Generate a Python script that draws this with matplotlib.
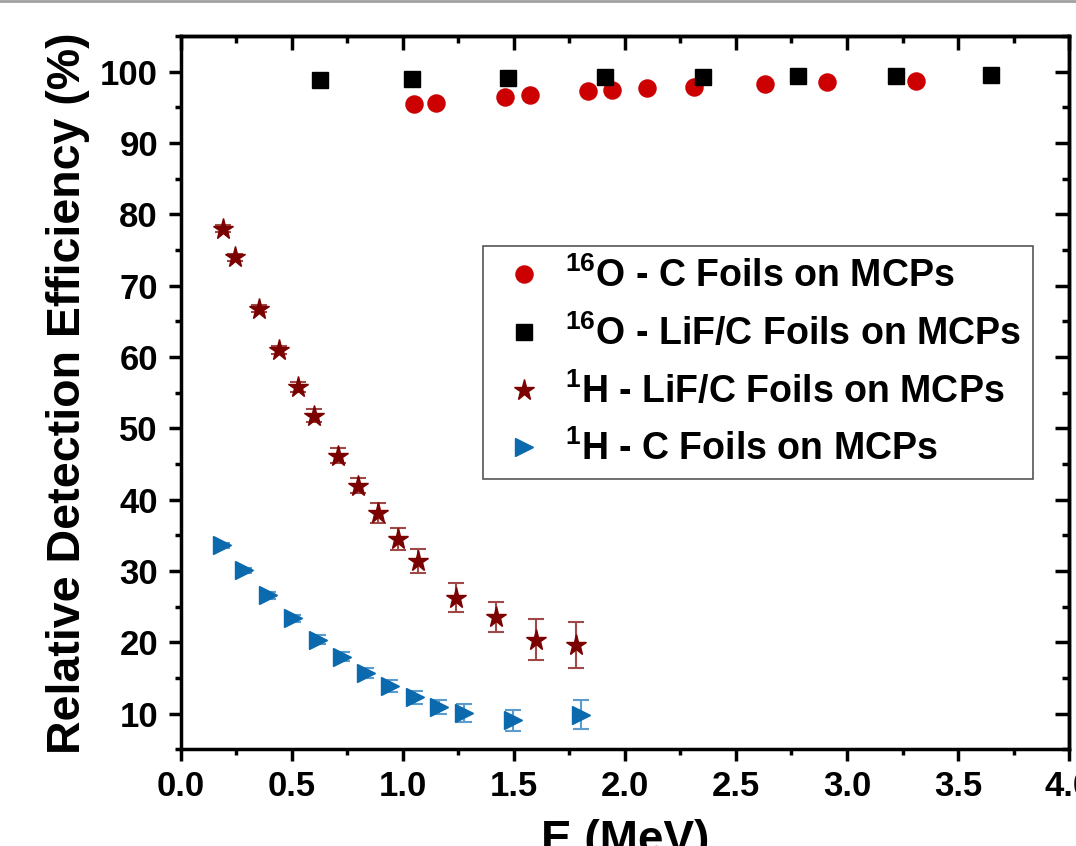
import numpy as np
import matplotlib
matplotlib.use("Agg")
import matplotlib.pyplot as plt
from matplotlib.lines import Line2D

plt.rcParams['font.family'] = ['Liberation Sans', 'DejaVu Sans']
plt.rcParams['font.weight'] = 'bold'
plt.rcParams['mathtext.fontset'] = 'custom'
plt.rcParams['mathtext.rm'] = 'Liberation Sans:bold'
plt.rcParams['mathtext.it'] = 'Liberation Sans:bold'
plt.rcParams['mathtext.bf'] = 'Liberation Sans:bold'

# 16O - C foils
o_c_E = [1.05, 1.15, 1.46, 1.57, 1.835, 1.94, 2.10, 2.31, 2.63, 2.91, 3.31]
o_c_eff = [95.5, 95.6, 96.5, 96.7, 97.3, 97.5, 97.7, 97.9, 98.3, 98.5, 98.7]

# 16O - LiF/C foils
o_lif_E = [0.625, 1.04, 1.475, 1.91, 2.35, 2.78, 3.22, 3.65]
o_lif_eff = [98.8, 99.0, 99.1, 99.2, 99.3, 99.4, 99.4, 99.5]

# 1H - LiF/C foils
h_lif_E = [0.189, 0.243, 0.351, 0.44, 0.526, 0.598, 0.706, 0.796, 0.886,
           0.976, 1.066, 1.24, 1.42, 1.60, 1.78]
h_lif_eff = [78.0, 74.0, 66.8, 61.0, 55.8, 51.8, 46.2, 42.0, 38.1,
             34.5, 31.4, 26.3, 23.6, 20.4, 19.6]
h_lif_err = [0.5, 0.5, 0.5, 0.6, 0.7, 0.9, 1.0, 1.1, 1.4,
             1.6, 1.7, 2.05, 2.1, 2.85, 3.2]

# 1H - C foils
h_c_E = [0.184, 0.283, 0.391, 0.504, 0.617, 0.727, 0.835, 0.943, 1.053,
         1.162, 1.273, 1.495, 1.80]
h_c_eff = [33.6, 30.1, 26.6, 23.4, 20.4, 18.0, 15.7, 13.9, 12.3,
           11.0, 10.1, 9.1, 9.9]
h_c_err = [0.4, 0.4, 0.5, 0.5, 0.6, 0.6, 0.7, 0.8, 0.9,
           1.0, 1.3, 1.5, 2.0]

fig = plt.figure(figsize=(10.76, 8.46), dpi=100)
ax = fig.add_axes([0.1682, 0.1141, 0.8253, 0.8433])

ax.plot(o_c_E, o_c_eff, 'o', color='#cc0000', ms=12.3, ls='none', zorder=3)
ax.plot(o_lif_E, o_lif_eff, 's', color='black', ms=11.2, ls='none', zorder=3)
ax.errorbar(h_lif_E, h_lif_eff, yerr=h_lif_err, fmt='*', color='#7b0000',
            ms=15.5, ecolor='#a04848', elinewidth=1.5, capsize=6, capthick=1.5,
            zorder=3)
ax.errorbar(h_c_E, h_c_eff, yerr=h_c_err, fmt='>', color='#0a6aad',
            ms=13.5, ecolor='#5c9ccc', elinewidth=1.5, capsize=6, capthick=1.5,
            zorder=3)

ax.set_xlim(0, 4.0)
ax.set_ylim(5, 105)
ax.set_xticks(np.arange(0, 4.01, 0.5))
ax.set_xticks(np.arange(0.25, 4.0, 0.5), minor=True)
ax.set_yticks(np.arange(10, 101, 10))
ax.set_yticks(np.arange(5, 106, 10), minor=True)
ax.xaxis.set_major_formatter(matplotlib.ticker.FormatStrFormatter('%.1f'))

for s in ax.spines.values():
    s.set_linewidth(2.5)
ax.tick_params(which='major', direction='out', length=8.6, width=2.5,
               labelsize=25)
ax.tick_params(axis='x', which='major', pad=6)
ax.tick_params(axis='y', which='major', pad=8)
ax.tick_params(which='minor', direction='out', length=4.5, width=2.5)

# inward ticks on top and right
top = ax.secondary_xaxis('top')
top.set_xticks(np.arange(0, 4.01, 0.5))
top.set_xticks(np.arange(0.25, 4.0, 0.5), minor=True)
top.tick_params(which='major', direction='in', length=10, width=2.5, labeltop=False)
top.tick_params(which='minor', direction='in', length=5, width=2.5)
top.spines['top'].set_linewidth(2.5)
right = ax.secondary_yaxis('right')
right.set_yticks(np.arange(10, 101, 10))
right.set_yticks(np.arange(5, 106, 10), minor=True)
right.tick_params(which='major', direction='in', length=10, width=2.5, labelright=False)
right.tick_params(which='minor', direction='in', length=5, width=2.5)
right.spines['right'].set_linewidth(2.5)

ax.set_xlabel('E (MeV)', fontsize=33, fontweight='bold', labelpad=12)
ax.set_ylabel('Relative Detection Efficiency (%)', fontsize=33.5,
              fontweight='bold', labelpad=7)

handles = [
    Line2D([], [], ls='none', marker='o', color='#cc0000', ms=12.3),
    Line2D([], [], ls='none', marker='s', color='black', ms=11.2),
    Line2D([], [], ls='none', marker='*', color='#7b0000', ms=15.5),
    Line2D([], [], ls='none', marker='>', color='#0a6aad', ms=13.5),
]
labels = [r'$^{16}$O - C Foils on MCPs', r'$^{16}$O - LiF/C Foils on MCPs',
          r'$^{1}$H - LiF/C Foils on MCPs', r'$^{1}$H - C Foils on MCPs']
leg = ax.legend(handles, labels, loc='upper left', bbox_to_anchor=(0.3400, 0.706),
                borderaxespad=0, fontsize=27, fancybox=False,
                edgecolor='#555555', labelspacing=0.515, handletextpad=0.31,
                borderpad=0.31, handlelength=1.57, framealpha=1)
leg.get_frame().set_linewidth(1.2)
for t in leg.get_texts():
    t.set_fontweight('bold')

fig.add_artist(Line2D([0, 1], [0.999, 0.999], color='#a0a0a0', lw=2,
                      transform=fig.transFigure))

fig.savefig('out.png', dpi=100)
